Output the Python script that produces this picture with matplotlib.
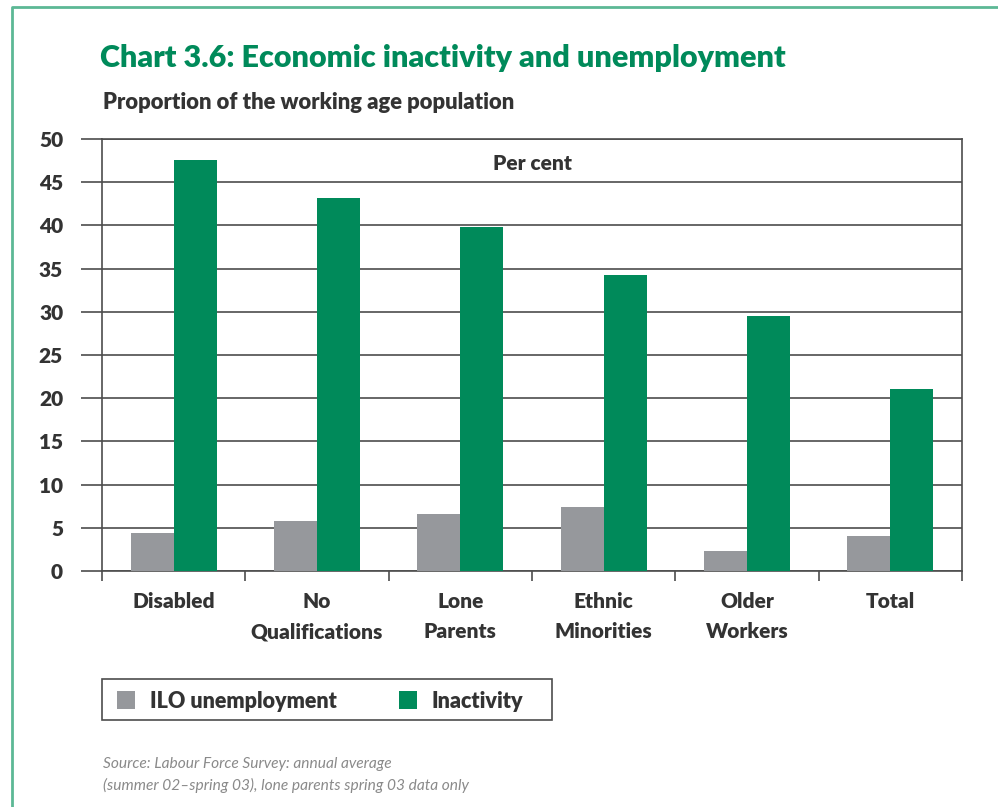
import numpy as np
import matplotlib
matplotlib.use('Agg')
import matplotlib.pyplot as plt
from matplotlib.lines import Line2D
from matplotlib.patches import Rectangle

plt.rcParams['font.family'] = ['Lato', 'DejaVu Sans']

# %% Data
groups = ['Disabled', 'No\nQualifications', 'Lone\nParents',
          'Ethnic\nMinorities', 'Older\nWorkers', 'Total']
ilo_unemployment = [4.4, 5.8, 6.6, 7.4, 2.3, 4.1]
inactivity = [47.6, 43.2, 39.8, 34.3, 29.5, 21.1]
series_names = ['ILO unemployment', 'Inactivity']
yticks = [0, 5, 10, 15, 20, 25, 30, 35, 40, 45, 50]

GREEN = '#008a5a'
GREY = '#96989c'
TEXT = '#333333'
GRID = '#4d4d4d'
BOLD = 'heavy'

W, H = 998, 807
fig = plt.figure(figsize=(W / 100, H / 100), dpi=100)


def px(x, y):
    return x / W, 1 - y / H


# %% Axes
ax = fig.add_axes([102 / W, 1 - 571 / H, (962 - 102) / W, (571 - 139) / H])
x = np.arange(len(groups))
bw = 0.3
b1 = ax.bar(x - bw / 2, ilo_unemployment, bw, color=GREY, zorder=3)
b2 = ax.bar(x + bw / 2, inactivity, bw, color=GREEN, zorder=3)

ax.set_xlim(-0.5, len(groups) - 0.5)
ax.set_ylim(0, 50)
ax.set_yticks(yticks)
ax.set_yticklabels([str(v) for v in yticks], fontsize=15, fontweight=BOLD, color=TEXT)
ax.yaxis.grid(True, color=GRID, lw=1.2, zorder=1)
ax.tick_params(axis='y', length=15, width=1.2, color=GRID, pad=13)

ax.set_xticks(x)
ax.set_xticklabels(groups, fontsize=15, fontweight=BOLD, color=TEXT, linespacing=1.7)
ax.set_xticks(np.arange(-0.5, len(groups)), minor=True)
ax.tick_params(axis='x', which='major', length=0, pad=15)
ax.tick_params(axis='x', which='minor', length=7, width=1.2, color=GRID)

for s in ax.spines.values():
    s.set_color(GRID)
    s.set_linewidth(1.2)

ax.text(0.5, 0.944, 'Per cent', transform=ax.transAxes, ha='center', va='center',
        fontsize=15, fontweight=BOLD, color=TEXT)

# %% Titles
fig.text(*px(100, 67), 'Chart 3.6: Economic inactivity and unemployment',
         fontsize=22, fontweight=BOLD, color=GREEN, va='baseline')
fig.text(*px(103, 109), 'Proportion of the working age population',
         fontsize=15.8, fontweight=BOLD, color=TEXT, va='baseline')

# %% Legend (box drawn separately so it can be wider than the entries)
leg = fig.legend([b1, b2], series_names, loc='center left',
                 bbox_to_anchor=px(117, 701), ncol=2, frameon=False,
                 fontsize=15.5, handlelength=0.85, handleheight=0.85,
                 handletextpad=0.7, columnspacing=2.85, borderpad=0,
                 borderaxespad=0)
for t in leg.get_texts():
    t.set_fontweight(BOLD)
    t.set_color(TEXT)
x0, y0 = px(102, 720)
x1, y1 = px(552, 679)
fig.add_artist(Rectangle((x0, y0), x1 - x0, y1 - y0, transform=fig.transFigure,
                         fill=False, edgecolor=GRID, lw=1.2))

# %% Source
fig.text(*px(103, 768), 'Source: Labour Force Survey: annual average',
         fontsize=11.2, style='italic', color='#8a8a8a', va='baseline')
fig.text(*px(103, 790), '(summer 02\u2013spring 03), lone parents spring 03 data only',
         fontsize=11.2, style='italic', color='#8a8a8a', va='baseline')

# %% Frame
fig.add_artist(Line2D([12 / W, 12 / W, 1], [0, 1 - 7 / H, 1 - 7 / H],
                      transform=fig.transFigure, color='#5cb895', lw=2))

fig.savefig('out.png', dpi=100)
